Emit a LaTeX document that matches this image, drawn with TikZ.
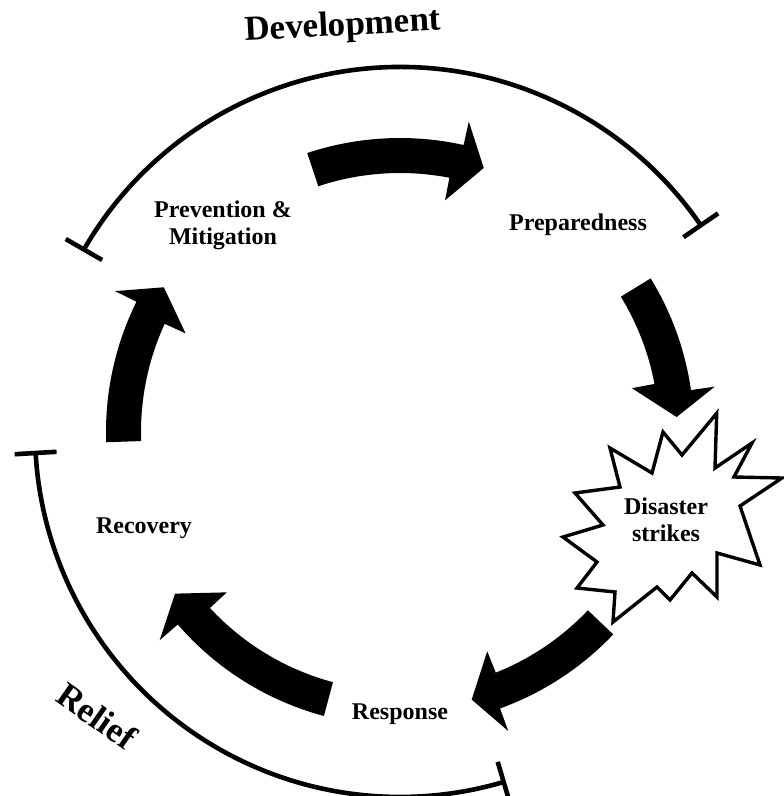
\documentclass[tikz,border=0pt]{standalone}
\usepackage{fontspec}
\setmainfont{Liberation Serif}
\usetikzlibrary{calc}
\newcommand\cycarrow[4]{% tail, inner barb, outer barb, tip
  \fill ($(C)+(#1:259)$) arc[start angle=#1,end angle=#2,radius=259]
    -- ($(C)+(#2:236)$) -- ($(C)+(#4:277)$) -- ($(C)+(#3:318)$)
    -- ($(C)+(#3:294)$) arc[start angle=#3,end angle=#1,radius=294] -- cycle;}
\begin{document}
\begin{tikzpicture}[x=1pt,y=1pt,
  lbl/.style={font=\bfseries\fontsize{24}{27}\selectfont, align=center, text=black, inner sep=0pt},
  big/.style={font=\bfseries\fontsize{35}{40}\selectfont, inner sep=0pt},
  ring/.style={line width=4.6pt},
  burst/.style={line width=3.4pt, fill=white, line join=miter, miter limit=20}]
\useasboundingbox (0,0) rectangle (784,-796);
\fill[white] (0,0) rectangle (784,-796);
\coordinate (C) at (400,-432);
% outer ring segments
\draw[ring] ($(C)+(150:365)$) coordinate (dA) arc[start angle=150,end angle=34.5,radius=365] coordinate (dB);
\draw[ring] ($(C)+(150:344)$) -- ($(C)+(150:386)$);
\draw[ring] ($(C)+(34.5:344)$) -- ($(C)+(34.5:386)$);
\draw[ring] ($(C)+(183.3:365)$) coordinate (rA) arc[start angle=183.3,end angle=286.5,radius=365] coordinate (rB);
\draw[ring] ($(C)+(183.3:344)$) -- ($(C)+(183.3:386)$);
\draw[ring] ($(C)+(286.5:344)$) -- ($(C)+(286.5:386)$);
% cycle arrows
\cycarrow{108.4}{79}{77.5}{72.4}
\cycarrow{31.5}{10.7}{8.2}{3.1}
\cycarrow{-43.5}{-68.3}{-70.1}{-75}
\cycarrow{255}{222.8}{220.9}{215.7}
\cycarrow{182}{155.3}{153.7}{148.5}
% starburst
\draw[burst] (716.7,-413.3) -- (715,-468) -- (752,-443) -- (734,-477) -- (782,-478)
  -- (740,-506) -- (760,-565) -- (717,-553) -- (717,-597) -- (692,-573)
  -- (670,-600) -- (657,-587) -- (613,-622) -- (615,-592) -- (577,-588)
  -- (597,-562) -- (563,-537) -- (603,-525) -- (575,-493) -- (620,-487)
  -- (610,-448) -- (652,-473) -- (663,-432) -- (682,-455) -- cycle;
% labels
\node[lbl] (prev) at (223,-225) {Prevention \&\\Mitigation};
\node[lbl] (prep) at (578,-225) {Preparedness};
\node[lbl] (dis) at (666,-520) {Disaster\\strikes};
\node[lbl] (rec) at (144,-528) {Recovery};
\node[lbl] (resp) at (400,-714) {Response};
\node[big, rotate=3] (dev) at (343,-27) {Development};
\node[big, rotate=-35] (rel) at (97,-716) {Relief};
\end{tikzpicture}
\end{document}
